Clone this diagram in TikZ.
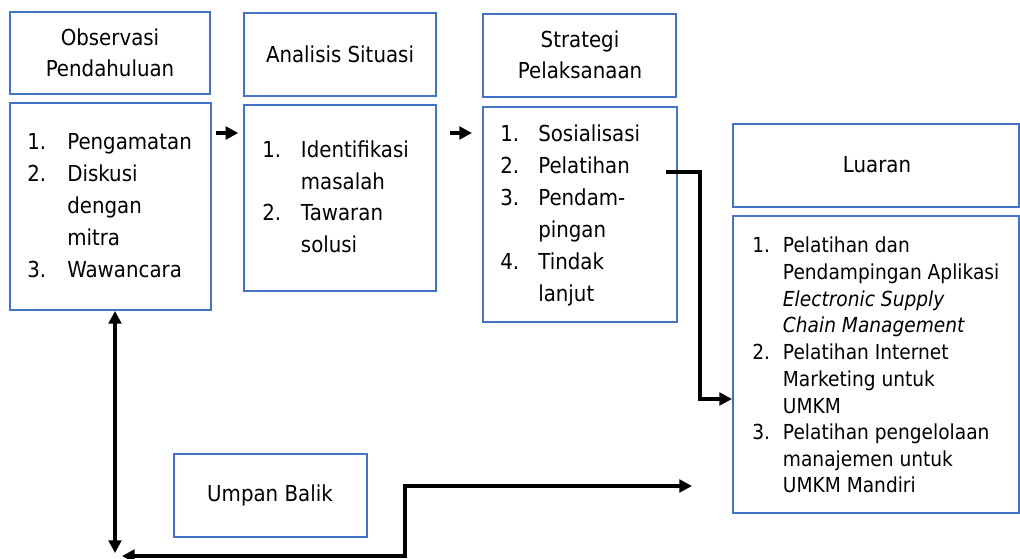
\documentclass[tikz,border=0pt]{standalone}
\usepackage{fontspec}
\setmainfont{DejaVu Sans}[FakeStretch=0.9]
\usetikzlibrary{arrows.meta,fit}
\definecolor{bx}{RGB}{68,114,196}
\begin{document}
\begin{tikzpicture}[x=0.75pt,y=-0.75pt,
  box/.style={draw=bx,line width=1.5pt,inner sep=0pt},
  hdr/.style={align=center,inner sep=0pt,font=\fontsize{16.5pt}{23.5pt}\selectfont},
  lst/.style={anchor=base west,inner sep=0pt,align=left},
  tip/.tip={Triangle[length=9.5pt,width=9.5pt]},
  arr/.style={line width=2.3pt,-tip},
  dbl/.style={line width=2.3pt,tip-tip}]
\useasboundingbox (0,0) rectangle (1020,559);

% header boxes
\node[box,fit={(10,12) (210,94)}] (obsH) {};
\node[box,fit={(244,13) (436,96)}] (anH) {};
\node[box,fit={(483,14) (676,97)}] (stH) {};
\node[box,fit={(733,124) (1019,207)}] (luH) {};
\node[box,fit={(174,454) (367,537)}] (ub) {};

\node[hdr] (obsHt) at (110,53) {Observasi\\Pendahuluan};
\node[hdr] (anHt) at (340,54) {Analisis Situasi};
\node[hdr] (stHt) at (580,55) {Strategi\\Pelaksanaan};
\node[hdr] (luHt) at (877,165) {Luaran};
\node[hdr] (ubt) at (270,495) {Umpan Balik};

% body boxes
\node[box,fit={(10,103) (211,310)}] (obsB) {};
\node[box,fit={(244,105) (436,291)}] (anB) {};
\node[box,fit={(483,107) (677,322)}] (stB) {};
\node[box,fit={(733,216) (1019,513)}] (luB) {};

% lists
\node[lst,font=\fontsize{16.5pt}{24pt}\selectfont] (obsL) at (27,150)
  {\begin{tabular}[t]{@{}p{30pt}@{}l@{}}1.&Pengamatan\\2.&Diskusi\\&dengan\\&mitra\\3.&Wawancara\end{tabular}};
\node[lst,font=\fontsize{16.5pt}{23.6pt}\selectfont] (anL) at (262,158)
  {\begin{tabular}[t]{@{}p{29pt}@{}l@{}}1.&Identifikasi\\&masalah\\2.&Tawaran\\&solusi\end{tabular}};
\node[lst,font=\fontsize{16.5pt}{24pt}\selectfont] (stL) at (500,142)
  {\begin{tabular}[t]{@{}p{28.5pt}@{}l@{}}1.&Sosialisasi\\2.&Pelatihan\\3.&Pendam-\\&pingan\\4.&Tindak\\&lanjut\end{tabular}};
\node[lst,font=\fontsize{15.5pt}{20pt}\selectfont] (luL) at (752,253)
  {\begin{tabular}[t]{@{}p{23pt}@{}l@{}}1.&Pelatihan dan\\&Pendampingan Aplikasi\\&\textit{Electronic Supply}\\&\textit{Chain Management}\\2.&Pelatihan Internet\\&Marketing untuk\\&UMKM\\3.&Pelatihan pengelolaan\\&manajemen untuk\\&UMKM Mandiri\end{tabular}};

% connector helper coordinates
\coordinate (r1) at (0,133);
\coordinate (pelEnd) at (666,172);
\coordinate (k1) at (700,399);
\coordinate (fbR) at (692,486);
\coordinate (fbK) at (405,556);
\coordinate (fbL) at (122,556);
\coordinate (vB) at (115,553);

% connectors
\draw[arr] ([xshift=3pt]obsB.east |- r1) -- ([xshift=-3.5pt]anB.west |- r1);
\draw[arr] ([xshift=10pt]anB.east |- r1) -- ([xshift=-7.5pt]stB.west |- r1);
\draw[arr] (pelEnd) -| (k1) -- (luB.west |- k1);
\draw[dbl] (obsB.south -| vB) -- (vB);
\draw[dbl] (fbL) -- (fbK) |- (fbR);
\end{tikzpicture}
\end{document}
